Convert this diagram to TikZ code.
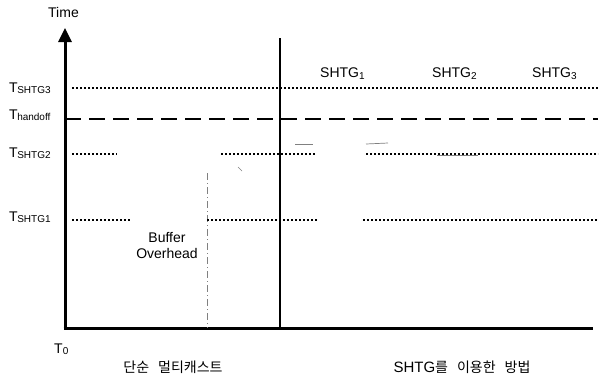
\documentclass[tikz,border=0pt]{standalone}
\usepackage{fontspec}
\setmainfont{Liberation Sans}
\newfontfamily\kr{Noto Sans CJK KR}
\usetikzlibrary{arrows.meta}
\newcommand{\Tsub}[1]{T\kern-0.5pt\raisebox{-1pt}{\fontsize{10}{12}\selectfont #1}}
\newcommand{\Snum}[1]{SHTG\raisebox{-2pt}{\fontsize{10}{12}\selectfont #1}}
\begin{document}
\begin{tikzpicture}[x=1pt,y=-1pt,
  lbl/.style={inner sep=0pt, font=\fontsize{14}{16}\selectfont},
  krl/.style={inner sep=0pt, font=\kr\fontsize{14}{16}\selectfont},
  dotline/.style={line width=1.8pt, dash pattern=on 1.6pt off 2.4pt},
  handoffline/.style={line width=2pt, dash pattern=on 16pt off 8pt},
  axisline/.style={line width=3pt},
  divider/.style={line width=1.4pt},
  bufline/.style={line width=0.6pt, gray, dash pattern=on 7pt off 3pt on 1pt off 3pt},
  scratch/.style={line width=0.7pt, gray}]
\useasboundingbox (0,0) rectangle (603,376);

% coordinates
\coordinate (o) at (65,328);
\coordinate (top) at (65,28);
\coordinate (xend) at (593,328);
\coordinate (dtop) at (280,38);
\coordinate (dbot) at (280,328);
\coordinate (btop) at (207,173);
\coordinate (bbot) at (207,328);

% axes
\draw[axisline, -{Triangle[width=13pt,length=14pt]}] (o) -- (top);
\draw[axisline] ([xshift=-1.5pt]o) -- (xend);
\draw[divider] (dtop) -- (dbot);
\draw[bufline] (btop) -- (bbot);

% level lines
\coordinate (a3) at (72,88);   \coordinate (b3) at (598,88);
\coordinate (ah) at (65,118.5); \coordinate (bh) at (598,118.5);
\draw[dotline] (a3) -- (b3);
\draw[handoffline] (ah) -- (bh);

\coordinate (a2) at (72,154);  \coordinate (b2) at (117,154);
\coordinate (c2) at (221,154); \coordinate (d2) at (315,154);
\coordinate (e2) at (366,154); \coordinate (f2) at (598,154);
\draw[dotline] (a2) -- (b2);
\draw[dotline] (c2) -- (d2);
\draw[dotline] (e2) -- (f2);

\coordinate (a1) at (72,220);  \coordinate (b1) at (130,220);
\coordinate (c1) at (207,220); \coordinate (d1) at (318,220);
\coordinate (e1) at (363,220); \coordinate (f1) at (598,220);
\draw[dotline] (a1) -- (b1);
\draw[dotline] (c1) -- (d1);
\draw[dotline] (e1) -- (f1);

% small marks
\coordinate (s1a) at (295,144); \coordinate (s1b) at (313,144);
\coordinate (s2a) at (366,144); \coordinate (s2b) at (388,143);
\coordinate (s3a) at (437,155); \coordinate (s3b) at (478,155);
\coordinate (s4a) at (238,167); \coordinate (s4b) at (242,171);
\draw[scratch] (s1a) -- (s1b);
\draw[scratch] (s2a) -- (s2b);
\draw[scratch] (s3a) -- (s3b);
\draw[scratch] (s4a) -- (s4b);

% labels
\node[lbl, anchor=base west] (time) at (48,17) {Time};
\node[lbl, anchor=base west] (l3) at (9,92) {\Tsub{SHTG3}};
\node[lbl, anchor=base west] (lh) at (9,119) {\Tsub{handoff}};
\node[lbl, anchor=base west] (l2) at (9,157) {\Tsub{SHTG2}};
\node[lbl, anchor=base west] (l1) at (9,221) {\Tsub{SHTG1}};
\node[lbl, anchor=base west] (l0) at (54,353) {T\raisebox{-1.5pt}{\fontsize{10}{12}\selectfont 0}};

\node[lbl, anchor=base west] (g1) at (320,77) {\Snum{1}};
\node[lbl, anchor=base west] (g2) at (432,77) {\Snum{2}};
\node[lbl, anchor=base west] (g3) at (532,77) {\Snum{3}};

\node[lbl, anchor=base] (buf) at (167,242) {Buffer};
\node[lbl, anchor=base] (ovh) at (167,258) {Overhead};

\node[krl, anchor=center] (left) at (173,367) {단순\hspace{9pt}멀티캐스트};
\node[krl, anchor=center] (right) at (462,367) {{\fontspec{Liberation Sans}\fontsize{15}{17}\selectfont SHTG}를\hspace{9pt}이용한\hspace{9pt}방법};
\end{tikzpicture}
\end{document}
